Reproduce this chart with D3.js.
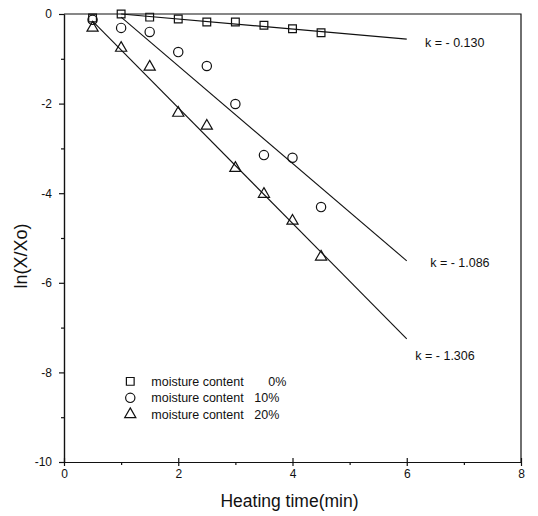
<!DOCTYPE html>
<html>
<head>
<meta charset="utf-8">
<script src="https://cdn.jsdelivr.net/npm/d3@7"></script>
<style>
    body { margin: 0; background: #fff; }
    svg { display: block; font-family: "Liberation Sans", Arial, sans-serif; }
</style>
</head>
<body>
<div id="chart"></div>
<script>
// --- Data ---
const times = [0.5, 1.0, 1.5, 2.0, 2.5, 3.0, 3.5, 4.0, 4.5];
const moisture0 = [-0.09, 0.0, -0.07, -0.11, -0.18, -0.18, -0.25, -0.33, -0.42];
const moisture10 = [-0.13, -0.31, -0.40, -0.85, -1.16, -2.01, -3.15, -3.21, -4.31];
const moisture20 = [-0.31, -0.76, -1.18, -2.21, -2.50, -3.44, -4.02, -4.62, -5.42];

// fitted lines: [start time, start value], [end time, end value]
const fit0 = [[1.0, 0.0], [6.0, -0.56]];
const fit10 = [[1.0, -0.07], [6.0, -5.51]];
const fit20 = [[0.5, -0.16], [6.0, -7.25]];

const kLabels = ["k = - 0.130", "k = - 1.086", "k = - 1.306"];
const legendNames = ["moisture content", "moisture content", "moisture content"];
const legendPercents = ["0%", "10%", "20%"];

const xMajor = [0, 2, 4, 6, 8];
const xMinor = [1, 3, 5, 7];
const yMajor = [0, -2, -4, -6, -8, -10];
const yMinor = [-1, -3, -5, -7, -9];

const WIDTH = 538, HEIGHT = 516;
const MARGIN = { top: 14, right: 17, bottom: 54, left: 64 };
const INNER_WIDTH = WIDTH - MARGIN.left - MARGIN.right;
const INNER_HEIGHT = HEIGHT - MARGIN.top - MARGIN.bottom;
const INK = "#111";

const svg = d3.select("#chart")
    .append("svg")
    .attr("width", WIDTH)
    .attr("height", HEIGHT)
    .append("g")
    .attr("transform", `translate(${MARGIN.left},${MARGIN.top})`);

const x = d3.scaleLinear().domain([0, 8]).range([0, INNER_WIDTH]);
const y = d3.scaleLinear().domain([-10, 0]).range([INNER_HEIGHT, 0]);

// --- Axes ---
const xAxis = svg.append("g")
    .attr("transform", `translate(0,${INNER_HEIGHT})`)
    .call(d3.axisBottom(x).tickValues(xMajor).tickSize(4).tickSizeOuter(0).tickPadding(3)
        .tickFormat(d => String(d)));
xAxis.selectAll(".tick line").attr("y1", -4);

svg.append("g")
    .attr("transform", `translate(0,${INNER_HEIGHT})`)
    .call(d3.axisBottom(x).tickValues(xMinor).tickSize(3).tickSizeOuter(0).tickFormat(""));

svg.append("g")
    .call(d3.axisLeft(y).tickValues(yMajor).tickSize(5).tickSizeOuter(0).tickPadding(7)
        .tickFormat(d => String(d)));

svg.append("g")
    .call(d3.axisLeft(y).tickValues(yMinor).tickSize(3).tickSizeOuter(0).tickFormat(""));

svg.selectAll(".domain, .tick line").attr("stroke", INK).attr("stroke-width", 1.2);
svg.selectAll(".tick text").attr("fill", INK).style("font-size", "12px");

// frame top and right
svg.append("path")
    .attr("d", `M${x(0)},${y(0)}H${x(8)}V${y(-10)}`)
    .attr("fill", "none")
    .attr("stroke", INK)
    .attr("stroke-width", 1.2);

// --- Fit lines ---
const line = d3.line().x(d => x(d[0])).y(d => y(d[1]));
[fit0, fit10, fit20].forEach(f => {
    svg.append("path")
        .datum(f)
        .attr("fill", "none")
        .attr("stroke", INK)
        .attr("stroke-width", 1.1)
        .attr("d", line);
});

// --- Markers ---
const series = [
    { values: moisture0, symbol: d3.symbolSquare, size: 60 },
    { values: moisture10, symbol: d3.symbolCircle, size: 68 },
    { values: moisture20, symbol: d3.symbolTriangle, size: 54 }
];

series.forEach(s => {
    svg.append("g")
        .selectAll("path")
        .data(s.values.map((v, i) => [times[i], v]))
        .join("path")
        .attr("transform", d => `translate(${x(d[0])},${y(d[1])})`)
        .attr("d", d3.symbol(s.symbol, s.size))
        .attr("fill", "none")
        .attr("stroke", INK)
        .attr("stroke-width", 1.2);
});

// --- k annotations ---
const kPos = [[6.32, -0.74], [6.41, -5.65], [6.15, -7.72]];
svg.selectAll(".klabel")
    .data(kLabels)
    .join("text")
    .attr("class", "klabel")
    .attr("x", (d, i) => x(kPos[i][0]))
    .attr("y", (d, i) => y(kPos[i][1]))
    .attr("fill", INK)
    .style("font-size", "12.5px")
    .text(d => d);

// --- Legend ---
const legend = svg.append("g")
    .attr("transform", `translate(${x(1.16)}, ${y(-8.2)})`);
const percentX = [138, 124, 124];

series.forEach((s, i) => {
    legend.append("path")
        .attr("transform", `translate(0, ${i * 16.5})`)
        .attr("d", d3.symbol(s.symbol, s.size))
        .attr("fill", "none")
        .attr("stroke", INK)
        .attr("stroke-width", 1.2);
    legend.append("text")
        .attr("x", 21)
        .attr("y", i * 16.5 + 4.5)
        .attr("fill", INK)
        .style("font-size", "12.5px")
        .text(legendNames[i]);
    legend.append("text")
        .attr("x", percentX[i])
        .attr("y", i * 16.5 + 4.5)
        .attr("fill", INK)
        .style("font-size", "12.5px")
        .text(legendPercents[i]);
});

// --- Axis titles ---
svg.append("text")
    .attr("x", INNER_WIDTH / 2 - 3)
    .attr("y", INNER_HEIGHT + 45)
    .attr("text-anchor", "middle")
    .attr("fill", INK)
    .style("font-size", "17.5px")
    .text("Heating time(min)");

svg.append("text")
    .attr("transform", `translate(${-37},${INNER_HEIGHT / 2 + 18}) rotate(-90)`)
    .attr("text-anchor", "middle")
    .attr("fill", INK)
    .style("font-size", "18px")
    .text("ln(X/Xo)");
</script>
</body>
</html>
